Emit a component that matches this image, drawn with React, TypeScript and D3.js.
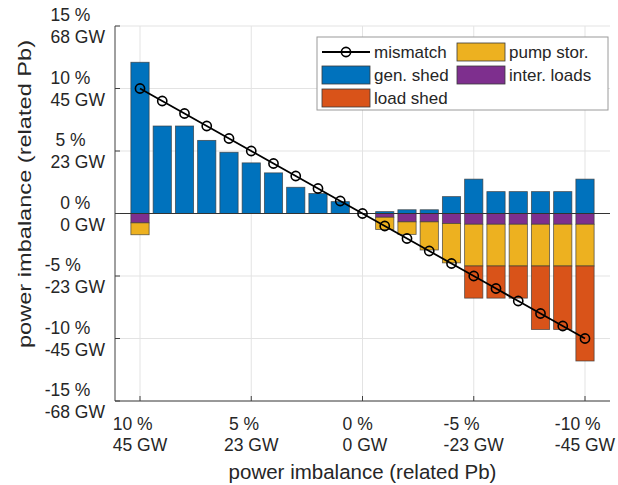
import React from "react";
import * as d3 from "d3";

const categories = [10, 9, 8, 7, 6, 5, 4, 3, 2, 1, 0, -1, -2, -3, -4, -5, -6, -7, -8, -9, -10];
const genShed = [12.1, 7.0, 7.0, 5.85, 4.9, 4.05, 3.25, 2.1, 1.6, 0.95, 0, 0.15, 0.3, 0.3, 1.35, 2.75, 1.75, 1.75, 1.75, 1.75, 2.75];
const interLoads = [-0.75, 0, 0, 0, 0, 0, 0, 0, 0, 0, 0, -0.3, -0.67, -0.67, -0.8, -0.86, -0.86, -0.86, -0.86, -0.86, -0.86];
const pumpStor = [-0.95, 0, 0, 0, 0, 0, 0, 0, 0, 0, 0, -0.98, -1.0, -2.25, -3.15, -3.34, -3.34, -3.34, -3.34, -3.34, -3.34];
const loadShed = [0, 0, 0, 0, 0, 0, 0, 0, 0, 0, 0, 0, 0, 0, 0, -2.57, -2.57, -2.57, -5.08, -5.08, -7.6];
const mismatch = [10, 9, 8, 7, 6, 5, 4, 3, 2, 1, 0, -1, -2, -3, -4, -5, -6, -7, -8, -9, -10];

const xTicks = [10, 5, 0, -5, -10];
const xTickGW = [45, 23, 0, -23, -45];
const yTicks = [15, 10, 5, 0, -5, -10, -15];
const yTickGW = [68, 45, 23, 0, -23, -45, -68];

const seriesKeys = ["genShed", "interLoads", "pumpStor", "loadShed"];
const seriesColors: Record<string, string> = {
  genShed: "#0072BD",
  interLoads: "#7E2F8E",
  pumpStor: "#EDB120",
  loadShed: "#D95319",
};

const FONT = "'Liberation Sans', Arial, Helvetica, sans-serif";
const TICK_FS = 17.5;
const LABEL_FS = 20.5;
const LEG_FS = 17;

let ctx: CanvasRenderingContext2D | null = null;
function measure(s: string, fs: number) {
  if (!ctx) ctx = document.createElement("canvas").getContext("2d");
  if (!ctx) return s.length * fs * 0.55;
  ctx.font = `${fs}px 'Liberation Sans', Arial, sans-serif`;
  return ctx.measureText(s).width;
}
function pad2(v: number) {
  const s = String(v);
  return s.length < 2 ? " " + s : s;
}

export default function App() {
  const W = 618, H = 485;
  const axLeft = 115, axRight = 610, axTop = 26, axBottom = 401;
  const x = d3.scaleLinear().domain([10, -10]).range([140, 585]);
  const y = d3.scaleLinear().domain([15, -15]).range([axTop, axBottom]);
  const step = Math.abs(x(0) - x(1));
  const bw = step * 0.82;

  const table = categories.map((c, i) => ({
    cat: c,
    genShed: genShed[i],
    interLoads: interLoads[i],
    pumpStor: pumpStor[i],
    loadShed: loadShed[i],
  }));
  const stacked = d3.stack<any>().keys(seriesKeys).offset(d3.stackOffsetDiverging)(table);

  const line = d3.line<number>().x((_, i) => x(categories[i])).y((d) => y(d));

  const renderLines = (l1: string, l2: string, blockLeft: number, y1: number, y2: number, key: string) => {
    const sp = measure(" ", TICK_FS);
    const off1 = l1.startsWith(" ") ? sp : 0;
    const off2 = l2.startsWith(" ") ? sp : 0;
    return (
      <g key={key}>
        <text x={blockLeft + off1} y={y1} fontSize={TICK_FS} fill="#262626">{l1.trim()}</text>
        <text x={blockLeft + off2} y={y2} fontSize={TICK_FS} fill="#262626">{l2.trim()}</text>
      </g>
    );
  };

  const legX = 317, legY = 37, legW = 291, legH = 73;
  const rowY = [52, 75, 98];

  return (
    <svg width={W} height={H} style={{ position: "absolute", left: 0, top: 0, background: "#fff" }} fontFamily={FONT}>
      <rect x={0} y={0} width={W} height={H} fill="#fff" />
      {/* grid */}
      <g stroke="#e3e3e3" strokeWidth={1}>
        {xTicks.map((t) => (
          <line key={"gx" + t} x1={x(t)} x2={x(t)} y1={axTop} y2={axBottom} />
        ))}
        {yTicks.map((t) => (
          <line key={"gy" + t} x1={axLeft} x2={axRight} y1={y(t)} y2={y(t)} />
        ))}
      </g>
      {/* bars */}
      {stacked.map((s) => (
        <g key={s.key} fill={seriesColors[s.key]} stroke="#3a3a3a" strokeWidth={0.8} strokeOpacity={0.8}>
          {s.map((d, i) => {
            const y0 = y(d[0]);
            const y1 = y(d[1]);
            const h = Math.abs(y1 - y0);
            if (h < 0.01) return null;
            return <rect key={i} x={x(categories[i]) - bw / 2} y={Math.min(y0, y1)} width={bw} height={h} />;
          })}
        </g>
      ))}
      {/* zero line */}
      <line x1={axLeft} x2={axRight} y1={y(0)} y2={y(0)} stroke="#333" strokeWidth={1} />
      {/* axes */}
      <g stroke="#404040" strokeWidth={1}>
        <line x1={axLeft} x2={axLeft} y1={axTop} y2={axBottom} />
        <line x1={axLeft} x2={axRight} y1={axBottom} y2={axBottom} />
        {xTicks.map((t) => (
          <line key={"tx" + t} x1={x(t)} x2={x(t)} y1={axBottom} y2={axBottom - 5} />
        ))}
        {yTicks.map((t) => (
          <line key={"ty" + t} x1={axLeft} x2={axLeft + 5} y1={y(t)} y2={y(t)} />
        ))}
      </g>
      {/* mismatch line */}
      <path d={line(mismatch) || ""} fill="none" stroke="#000" strokeWidth={1.8} />
      {mismatch.map((m, i) => (
        <circle key={"c" + i} cx={x(categories[i])} cy={y(m)} r={4.6} fill="none" stroke="#000" strokeWidth={1.6} />
      ))}
      {/* y tick labels */}
      {yTicks.map((t, i) => {
        const l1 = pad2(t) + " %";
        const l2 = pad2(yTickGW[i]) + " GW";
        const bwid = Math.max(measure(l1, TICK_FS), measure(l2, TICK_FS));
        const right = 105;
        const cy = y(t);
        return renderLines(l1, l2, right - bwid, cy - 11 + 0.35 * TICK_FS, cy + 11 + 0.35 * TICK_FS, "yl" + t);
      })}
      {/* x tick labels */}
      {xTicks.map((t, i) => {
        const l1 = pad2(t) + " %";
        const l2 = pad2(xTickGW[i]) + " GW";
        const bwid = Math.max(measure(l1, TICK_FS), measure(l2, TICK_FS));
        return renderLines(l1, l2, x(t) - bwid / 2, 424 + 0.35 * TICK_FS, 445 + 0.35 * TICK_FS, "xl" + t);
      })}
      {/* axis labels */}
      <text x={(axLeft + axRight) / 2} y={472 + 0.35 * LABEL_FS} fontSize={LABEL_FS} textAnchor="middle" fill="#262626">
        power imbalance (related Pb)
      </text>
      <text
        transform={`translate(${25 + 0.35 * 18},${194}) rotate(-90)`}
        fontSize={18}
        textAnchor="middle"
        textLength={308}
        lengthAdjust="spacingAndGlyphs"
        fill="#262626"
      >
        power imbalance (related Pb)
      </text>
      {/* legend */}
      <g>
        <rect x={legX} y={legY} width={legW} height={legH} fill="#fff" stroke="#9a9a9a" strokeWidth={1} />
        <line x1={322} x2={370} y1={rowY[0]} y2={rowY[0]} stroke="#000" strokeWidth={1.8} />
        <circle cx={346} cy={rowY[0]} r={4.6} fill="none" stroke="#000" strokeWidth={1.6} />
        <text x={374} y={rowY[0] + 0.35 * LEG_FS} fontSize={LEG_FS} fill="#262626">mismatch</text>
        <rect x={322} y={rowY[1] - 9} width={48} height={18} fill={seriesColors.genShed} stroke="#3a3a3a" strokeWidth={0.8} />
        <text x={374} y={rowY[1] + 0.35 * LEG_FS} fontSize={LEG_FS} fill="#262626">gen. shed</text>
        <rect x={322} y={rowY[2] - 9} width={48} height={18} fill={seriesColors.loadShed} stroke="#3a3a3a" strokeWidth={0.8} />
        <text x={374} y={rowY[2] + 0.35 * LEG_FS} fontSize={LEG_FS} fill="#262626">load shed</text>
        <rect x={457} y={rowY[0] - 9} width={48} height={18} fill={seriesColors.pumpStor} stroke="#3a3a3a" strokeWidth={0.8} />
        <text x={509} y={rowY[0] + 0.35 * LEG_FS} fontSize={LEG_FS} fill="#262626">pump stor.</text>
        <rect x={457} y={rowY[1] - 9} width={48} height={18} fill={seriesColors.interLoads} stroke="#3a3a3a" strokeWidth={0.8} />
        <text x={509} y={rowY[1] + 0.35 * LEG_FS} fontSize={LEG_FS} fill="#262626">inter. loads</text>
      </g>
    </svg>
  );
}
